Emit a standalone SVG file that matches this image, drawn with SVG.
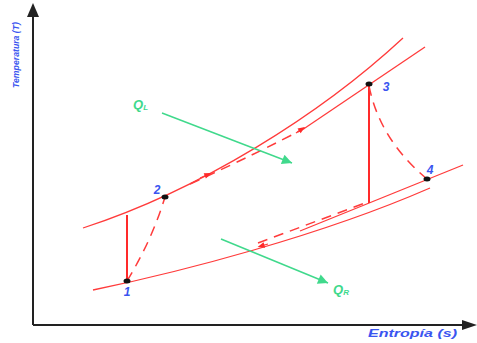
<svg xmlns="http://www.w3.org/2000/svg" width="477" height="343" viewBox="0 0 477 343">
<defs>
<style>
.ax{stroke:#222;stroke-width:2;fill:none}
.cv{stroke:#ff3b3b;stroke-width:1.3;fill:none}
.vt{stroke:#ff2a2a;stroke-width:2;fill:none}
.ds{stroke:#ff3b3b;stroke-width:1.5;fill:none;stroke-dasharray:10 7}
.q{stroke:#40d98c;stroke-width:1.5;fill:none}
.lbl{font-family:"Liberation Sans",Arial,sans-serif;font-weight:bold;font-style:italic;fill:#3a55f0}
.num{font-size:12px;text-anchor:middle}
.ql{font-family:"Liberation Sans",Arial,sans-serif;font-weight:bold;font-style:italic;fill:#40d98c}
.pt{fill:#111}
</style>
<marker id="ah" viewBox="0 0 10 10" refX="10" refY="5" markerWidth="8" markerHeight="8" markerUnits="userSpaceOnUse" orient="auto">
<path d="M0,0 L10,5 L0,10 z" fill="#222"/>
</marker>
<marker id="gh" viewBox="0 0 10 10" refX="10" refY="5" markerWidth="14" markerHeight="10" markerUnits="userSpaceOnUse" orient="auto">
<path d="M0,0 L10,5 L0,10 z" fill="#40d98c"/>
</marker>
<marker id="rh" viewBox="0 0 10 10" refX="5" refY="5" markerWidth="9" markerHeight="7" markerUnits="userSpaceOnUse" orient="auto">
<path d="M0,1 L10,5 L0,9 z" fill="#ff2a2a"/>
</marker>
</defs>
<g id="axes">
<path class="ax" d="M33,325 V17"/>
<path d="M27,17 L33,3 L39,17 z" fill="#222"/>
<path class="ax" d="M33,325 H462"/>
<path d="M462,320 L477,325 L462,330 z" fill="#222"/>
<text class="lbl" font-size="9" textLength="66" lengthAdjust="spacingAndGlyphs" transform="translate(19,88) rotate(-90)">Temperatura (T)</text>
<text class="lbl" font-size="10" x="368" y="337" textLength="89" lengthAdjust="spacingAndGlyphs">Entropía (s)</text>
</g>
<g id="connectors">
<path class="cv" d="M83,228 C200,190 320,115 403,38"/>
<path class="ds" d="M190,184 Q260,152 305,128"/>
<path class="cv" d="M305,128 L425,47"/>
<path class="cv" d="M93,290 C180,272 320,236 430,188"/>
<path class="cv" d="M300,231 L463,165"/>
<path class="ds" d="M258,243 L365,203"/>
<path class="vt" d="M127,281 V215"/>
<path class="vt" d="M369,84 V203"/>
<path class="ds" d="M127,281 Q152,240 165,197"/>
<path class="ds" d="M369,86 Q380,140 427,179"/>
<path class="cv" marker-end="url(#rh)" d="M200,178 L208,174.5"/>
<path class="cv" marker-end="url(#rh)" d="M296,133 L302,129"/>
<path class="cv" marker-end="url(#rh)" d="M268,244 L261,246"/>
<path class="q" marker-end="url(#gh)" d="M162,113 L292,163"/>
<path class="q" marker-end="url(#gh)" d="M221,239 L328,283"/>
</g>
<g id="p1"><ellipse class="pt" cx="127" cy="281" rx="3.5" ry="2.5"/><text class="lbl num" x="127" y="296">1</text></g>
<g id="p2"><ellipse class="pt" cx="165" cy="197" rx="3.5" ry="2.5"/><text class="lbl num" x="157" y="194">2</text></g>
<g id="p3"><ellipse class="pt" cx="369" cy="84" rx="3.5" ry="2.5"/><text class="lbl num" x="386" y="91">3</text></g>
<g id="p4"><ellipse class="pt" cx="427" cy="179" rx="3.5" ry="2.5"/><text class="lbl num" x="430" y="174">4</text></g>
<g id="qL"><text class="ql" x="133" y="109" font-size="13">Q<tspan font-size="8" dy="1">L</tspan></text></g>
<g id="qR"><text class="ql" x="333" y="294" font-size="13">Q<tspan font-size="8" dy="1">R</tspan></text></g>
</svg>
